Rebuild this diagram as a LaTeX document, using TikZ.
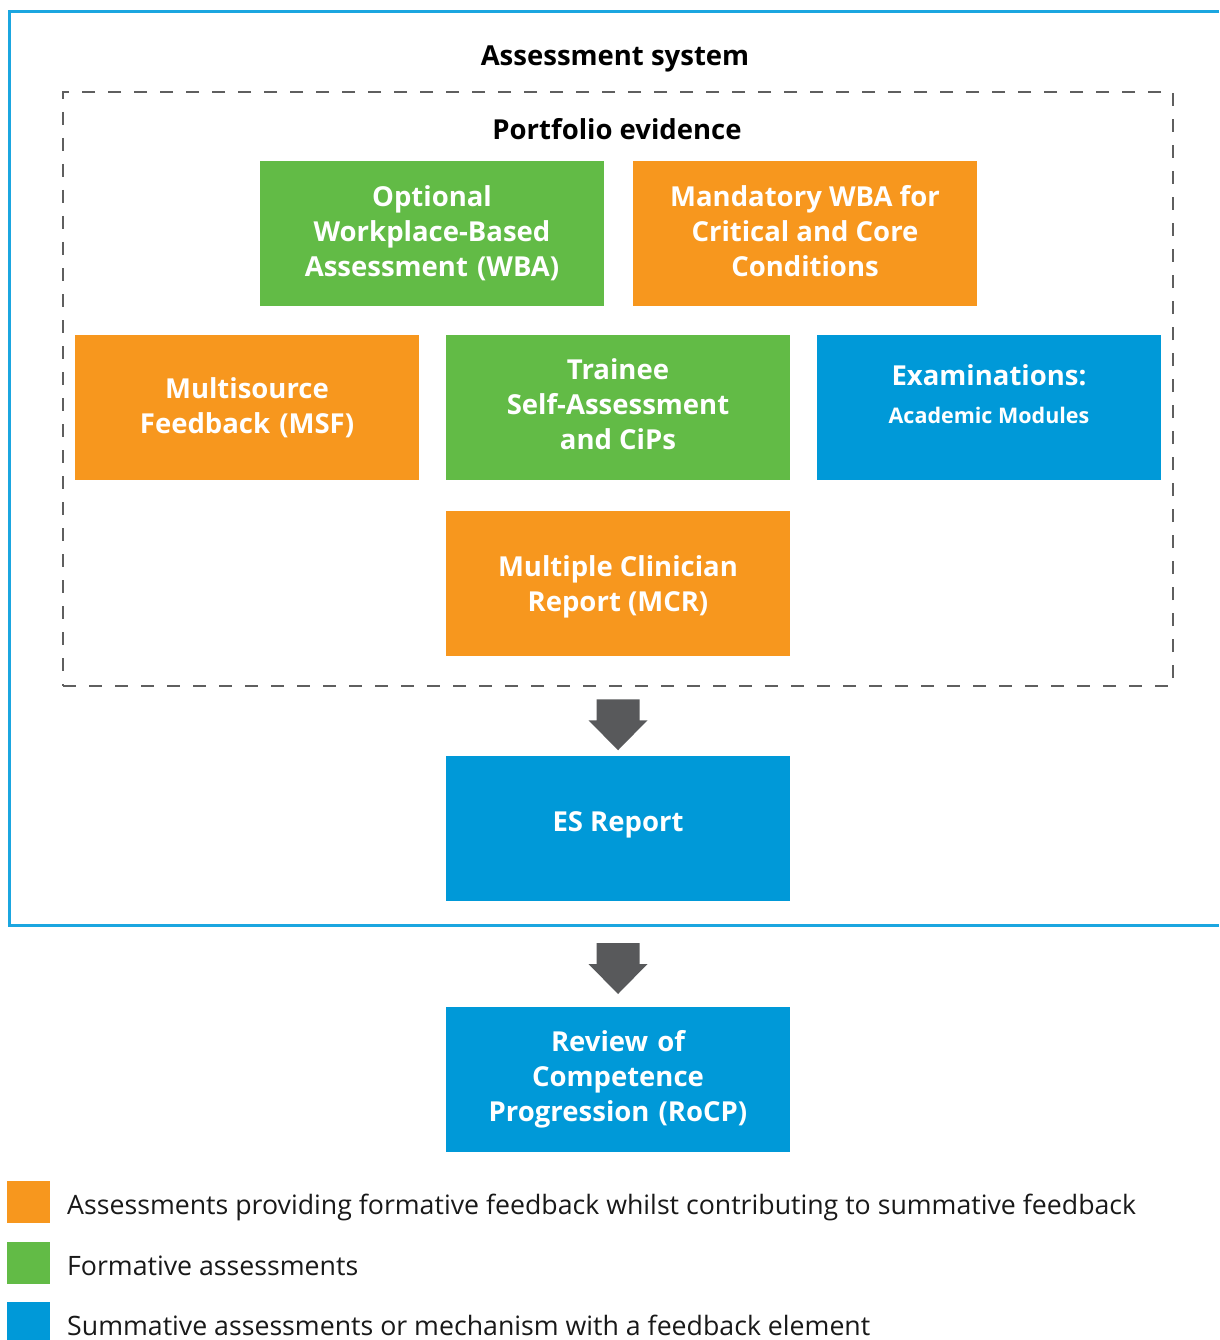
\documentclass[tikz,border=0pt]{standalone}
\usepackage{fontspec}
\setmainfont{Open Sans}
\usetikzlibrary{calc}
\definecolor{orng}{HTML}{F7971E}
\definecolor{grn}{HTML}{62BB46}
\definecolor{blu}{HTML}{0099D8}
\definecolor{framec}{HTML}{1BA6E0}
\definecolor{dgray}{HTML}{58595B}
\definecolor{dashc}{HTML}{5F5F5F}
\tikzset{
  abox/.style={minimum width=344pt, minimum height=145pt, inner sep=0pt, text width=336pt,
    align=center, text=white, font=\fontsize{27.5}{35}\selectfont\bfseries},
  orbox/.style={abox, fill=orng},
  grbox/.style={abox, fill=grn},
  blbox/.style={abox, fill=blu},
  boxtext/.style={inner sep=0pt, align=center, text=white, font=\fontsize{27.5}{35}\selectfont\bfseries},
  title/.style={font=\fontsize{27.5}{30}\selectfont\bfseries, text=black},
  legsq/.style={minimum width=43pt, minimum height=42pt, inner sep=0pt},
  legtxt/.style={anchor=base west, inner sep=0pt, font=\fontsize{26.7}{30}\selectfont, text=black!90},
  blockarrow/.pic={\fill[dgray] (-21.5,0) -- (21.5,0) -- (21.5,21) -- (29.5,21) -- (0,51) -- (-29.5,21) -- (-21.5,21) -- cycle;}
}
\begin{document}
\begin{tikzpicture}[x=1pt,y=-1pt]
\useasboundingbox (0,0) rectangle (1219,1340);
% outer frame
\draw[framec, line width=3pt] (1219,11.5) -- (9.5,11.5) -- (9.5,925) -- (1219,925);
\coordinate (framebottom) at (618,925);
\node[title] (t1) at (615,59) {Assessment system};
% portfolio dashed box
\node[draw=dashc, line width=2.5pt, dash pattern=on 13pt off 13pt, minimum width=1110pt, minimum height=594pt, inner sep=0pt] (portfolio) at (618,389) {};
\node[title] (t2) at (617,129.5) {Portfolio evidence};
\node[grbox] (owba) at (432,233.5) {Optional\\Workplace-Based\\Assessment (WBA)};
\node[orbox] (mwba) at (805,233.5) {};
\node[boxtext] (mwbatxt) at (805,231) {Mandatory WBA for\\Critical and Core\\Conditions};
\node[orbox] (msf) at (247,407.5) {Multisource\\Feedback (MSF)};
\node[grbox] (tsa) at (618,407.5) {};
\node[boxtext] (tsatxt) at (618,404.5) {Trainee\\Self-Assessment\\and CiPs};
\node[blbox] (exam) at (989,407.5) {};
\node[boxtext] (examtxt) at (989,394) {Examinations:\\[3pt]{\fontsize{21.5}{28}\selectfont Academic Modules}};
\node[orbox] (mcr) at (618,583.5) {};
\node[boxtext] (mcrtxt) at (618,587) {Multiple Clinician\\Report (MCR)};
\node[blbox] (es) at (618,828.5) {};
\node[boxtext] (estxt) at (618,825) {ES Report};
\node[blbox] (rocp) at (618,1079.5) {Review of\\Competence\\Progression (RoCP)};
% arrows
\pic at ($(portfolio.south)+(0,12)$) {blockarrow};
\pic at ($(framebottom)+(0,18)$) {blockarrow};
% legend
\node[legsq, fill=orng] (l1) at (28.5,1202) {};
\node[legtxt] (l1t) at (67,1214) {Assessments providing formative feedback whilst contributing to summative feedback};
\node[legsq, fill=grn] (l2) at (28.5,1263) {};
\node[legtxt] (l2t) at (67,1275) {Formative assessments};
\node[legsq, fill=blu] (l3) at (28.5,1323) {};
\node[legtxt] (l3t) at (67,1335) {Summative assessments or mechanism with a feedback element};
\end{tikzpicture}
\end{document}
